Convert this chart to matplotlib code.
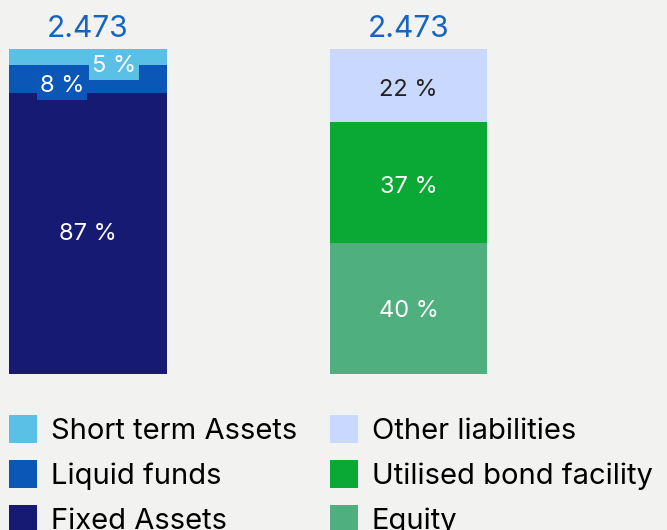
import matplotlib.pyplot as plt
import numpy as np

plt.rcParams['font.family'] = ['Inter', 'DejaVu Sans']

# data
bars = ['Assets', 'Liabilities']
totals = [2473, 2473]

asset_names = ['Fixed Assets', 'Liquid funds', 'Short term Assets']
asset_values = [86.6, 8.45, 4.95]
asset_colors = ['#161a72', '#0b57b8', '#5bc0e6']

liab_names = ['Equity', 'Utilised bond facility', 'Other liabilities']
liab_values = [40.3, 37.3, 22.4]
liab_colors = ['#4faf7e', '#0aa834', '#c9d8ff']

bg = '#f2f2f0'
W, H = 667, 530

fig = plt.figure(figsize=(W / 100, H / 100), dpi=100, facecolor=bg)
# axes: bars span y 49..374 px from top, centers at x=88 and 408.5 px
ax = fig.add_axes([0, 156 / H, 1, 325 / H])
ax.set_facecolor(bg)
step = 320.5
ax.set_xlim(-88 / step, (W - 88) / step)
ax.set_ylim(0, 100)
ax.axis('off')

width = 158 / step
x = np.arange(len(bars))


def draw_stack(xpos, values, colors, labels_cfg):
    bottom = 0
    for v, c, cfg in zip(values, colors, labels_cfg):
        ax.bar(xpos, v, width, bottom=bottom, color=c, linewidth=0)
        txt = '%.0f %%' % v
        dx, dy, tc, boxed = cfg
        kw = {}
        if boxed:
            kw['bbox'] = dict(boxstyle='square,pad=0.12', fc=c, ec='none')
        ax.annotate(txt, (xpos, bottom + v / 2), xytext=(dx, dy),
                    textcoords='offset pixels', ha='center', va='center',
                    fontsize=17, color=tc, **kw)
        bottom += v


draw_stack(x[0], asset_values, asset_colors,
           [(0, -1, 'white', False), (-26, -7, 'white', True), (26, -9, 'white', True)])
draw_stack(x[1], liab_values, liab_colors,
           [(0, -2, 'white', False), (0, -5, 'white', False), (0, -5, '#222222', False)])

for xi, t in zip(x, totals):
    ax.annotate(f'{t:,}'.replace(',', '.'), (xi, 100), xytext=(0, 12),
                textcoords='offset pixels', ha='center', va='baseline',
                fontsize=21.5, color='#1565c0')

# legends, two columns
def add_legend(names, colors, left):
    handles = [plt.Rectangle((0, 0), 1, 1, fc=c, ec='none') for c in colors]
    fig.legend(handles[::-1], names[::-1], loc='upper left',
               bbox_to_anchor=(left / W, 1 - 415 / H), frameon=False,
               fontsize=21, handlelength=0.96, handleheight=1.1,
               handletextpad=0.48, labelspacing=0.52, borderaxespad=0,
               borderpad=0)

add_legend(asset_names, asset_colors, 9)
add_legend(liab_names, liab_colors, 330)

fig.savefig('out.png', dpi=100, facecolor=bg)
